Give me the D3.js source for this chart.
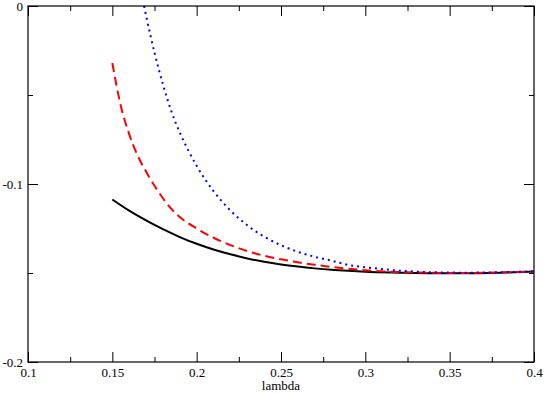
<!DOCTYPE html>
<html><head><meta charset="utf-8">
<script src="https://cdn.jsdelivr.net/npm/d3@7"></script>
<style>body{margin:0;background:#fff}svg{display:block}</style>
</head><body><svg id="c" width="545" height="393"></svg>
<script>
const xTicks = [0.1, 0.15, 0.2, 0.25, 0.3, 0.35, 0.4];
const xTickLabels = ["0.1", "0.15", "0.2", "0.25", "0.3", "0.35", "0.4"];
const yTicks = [-0.2, -0.1, 0];
const yTickLabels = ["-0.2", "-0.1", "0"];
const xLabel = "lambda";

const blackX = [0.15, 0.16, 0.17, 0.18, 0.19, 0.20, 0.21, 0.22, 0.23, 0.24, 0.25, 0.26, 0.27, 0.28, 0.29, 0.30, 0.32, 0.34, 0.36, 0.38, 0.40];
const blackY = [-0.1087, -0.1150, -0.1205, -0.1254, -0.1298, -0.1336, -0.1368, -0.1395, -0.1418, -0.1437, -0.1452, -0.1464, -0.1474, -0.1482, -0.1488, -0.1493, -0.1498, -0.1501, -0.1501, -0.1498, -0.1492];

const redX = [0.15, 0.155, 0.16, 0.165, 0.17, 0.175, 0.18, 0.185, 0.19, 0.20, 0.21, 0.22, 0.23, 0.24, 0.25, 0.26, 0.27, 0.28, 0.29, 0.30, 0.32, 0.34, 0.36, 0.38, 0.40];
const redY = [-0.0320, -0.0560, -0.0720, -0.0840, -0.0930, -0.1010, -0.1080, -0.1140, -0.1186, -0.1250, -0.1302, -0.1343, -0.1377, -0.1403, -0.1423, -0.1440, -0.1454, -0.1466, -0.1476, -0.1485, -0.1495, -0.1499, -0.1500, -0.1497, -0.1491];

const blueX = [0.1688, 0.17, 0.175, 0.18, 0.185, 0.19, 0.195, 0.20, 0.21, 0.22, 0.23, 0.24, 0.25, 0.26, 0.27, 0.28, 0.29, 0.30, 0.31, 0.32, 0.33, 0.34, 0.36, 0.38, 0.40];
const blueY = [0, -0.0054, -0.0262, -0.0440, -0.0592, -0.0711, -0.0811, -0.0898, -0.1040, -0.1149, -0.1232, -0.1296, -0.1344, -0.1381, -0.1409, -0.1431, -0.1455, -0.1468, -0.1478, -0.1487, -0.1492, -0.1496, -0.1498, -0.1496, -0.1491];

const L = 28, R = 534, T = 6, B = 362;
const x = d3.scaleLinear().domain([0.1, 0.4]).range([L, R]);
const y = d3.scaleLinear().domain([-0.2, 0]).range([B, T]);
const svg = d3.select("#c");
const font = "'Liberation Serif', 'Times New Roman', serif";

svg.append("clipPath").attr("id", "clp").append("rect")
  .attr("x", L).attr("y", T).attr("width", R - L).attr("height", B - T);

const line = d3.line().x(d => x(d[0])).y(d => y(d[1])).curve(d3.curveMonotoneX);
const g = svg.append("g").attr("clip-path", "url(#clp)");
function draw(xs, ys, color, dash) {
  g.append("path").datum(xs.map((v, i) => [v, ys[i]]))
    .attr("d", line).attr("fill", "none").attr("stroke", color)
    .attr("stroke-width", 2).attr("stroke-dasharray", dash);
}
draw(blackX, blackY, "#000", null);
draw(redX, redY, "#ff0000", "9,5");
draw(blueX, blueY, "#0000ff", "2,4");

// frame
svg.append("rect").attr("x", L).attr("y", T).attr("width", R - L).attr("height", B - T)
  .attr("fill", "none").attr("stroke", "#000").attr("stroke-width", 1.2);

const xMinor = d3.range(0, 6).map(i => 0.125 + i * 0.05);
svg.append("g").attr("transform", `translate(0,${B})`)
  .call(d3.axisBottom(x).tickValues(xTicks).tickSize(-10).tickFormat((d, i) => xTickLabels[i]).tickPadding(6));
svg.append("g").attr("transform", `translate(0,${T})`)
  .call(d3.axisTop(x).tickValues(xTicks).tickSize(-10).tickFormat(""));
svg.append("g").attr("transform", `translate(0,${B})`)
  .call(d3.axisBottom(x).tickValues(xMinor).tickSize(-5).tickFormat(""));
svg.append("g").attr("transform", `translate(0,${T})`)
  .call(d3.axisTop(x).tickValues(xMinor).tickSize(-5).tickFormat(""));

const yMinor = [-0.15, -0.05];
svg.append("g").attr("transform", `translate(${L},0)`)
  .call(d3.axisLeft(y).tickValues(yTicks).tickSize(-10).tickFormat((d, i) => yTickLabels[i]).tickPadding(5));
svg.append("g").attr("transform", `translate(${R},0)`)
  .call(d3.axisRight(y).tickValues(yTicks).tickSize(-10).tickFormat(""));
svg.append("g").attr("transform", `translate(${L},0)`)
  .call(d3.axisLeft(y).tickValues(yMinor).tickSize(-5).tickFormat(""));
svg.append("g").attr("transform", `translate(${R},0)`)
  .call(d3.axisRight(y).tickValues(yMinor).tickSize(-5).tickFormat(""));

svg.selectAll(".domain").remove();
svg.selectAll(".tick line").attr("stroke", "#000").attr("stroke-width", 1);
svg.selectAll(".tick text").attr("font-family", font).attr("font-size", 13).attr("fill", "#000");

svg.append("text").attr("x", (L + R) / 2).attr("y", 390).attr("text-anchor", "middle")
  .attr("font-family", font).attr("font-size", 13).text(xLabel);
</script></body></html>
